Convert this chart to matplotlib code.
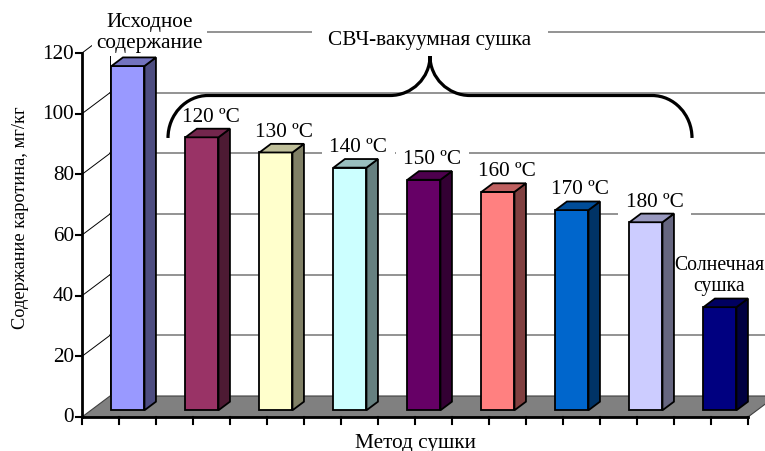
import matplotlib.pyplot as plt
from matplotlib.patches import Polygon, PathPatch
from matplotlib.path import Path
import matplotlib.colors as mcolors

methods = ['Исходное\nсодержание', '120 ºC', '130 ºC', '140 ºC', '150 ºC',
           '160 ºC', '170 ºC', '180 ºC', 'Солнечная\nсушка']
carotene = [113.5, 90, 85, 80, 76, 72, 66, 62, 34]
bar_colors = ['#9999FF', '#993366', '#FFFFCC', '#CCFFFF', '#660066',
              '#FF8080', '#0066CC', '#CCCCFF', '#000080']
yticks = [0, 20, 40, 60, 80, 100, 120]
ylabel = 'Содержание каротина, мг/кг'
xlabel = 'Метод сушки'
group_label = 'СВЧ-вакуумная сушка'
group_first, group_last = 1, 7

plt.rcParams['font.family'] = ['Liberation Serif', 'DejaVu Serif']
FS = 15.3

fig = plt.figure(figsize=(7.65, 4.52), dpi=100)
ax = fig.add_axes([0, 0, 1, 1])
ax.axis('off')

# масштаб: 74 px на категорию, ~3.03 px на единицу
PXC, PXV = 74, 3.033
ax.set_xlim(-0.5 - 82 / PXC, -0.5 + 683 / PXC)
ax.set_ylim(-34 / PXV, 418 / PXV)

n = len(carotene)
DX, DY = 28 / PXC, 21 / PXV      # глубина "пола"
f0, f1 = 0.32, 0.73              # положение столбиков по глубине
w = 33 / PXC
ymax = yticks[-1]


def shade(c, k):
    return tuple(v * k for v in mcolors.to_rgb(c))


# задняя стенка: сетка
for g in yticks[1:]:
    ax.plot([-0.5 + DX, n + 1], [g + DY, g + DY], color='#808080', lw=1.2, zorder=0.5)
    ax.plot([-0.5, -0.5 + DX], [g, g + DY], color='black', lw=0.7, zorder=0.5)
ax.plot([-0.5 + DX, -0.5 + DX], [DY, ymax + DY], color='black', lw=0.7, zorder=0.5)

# пол
floor = Polygon([(-0.5, 0), (n - 0.5, 0), (n - 0.5 + DX, DY), (-0.5 + DX, DY)],
                closed=True, fc='#808080', ec='#404040', lw=0.8, zorder=1)
ax.add_patch(floor)

# столбики
bdx, bdy = (f1 - f0) * DX, (f1 - f0) * DY
for i, (v, c) in enumerate(zip(carotene, bar_colors)):
    xl = i - w / 2 + f0 * DX
    xr = xl + w
    y0 = f0 * DY
    y1 = y0 + v
    front = Polygon([(xl, y0), (xr, y0), (xr, y1), (xl, y1)], closed=True,
                    fc=c, ec='black', lw=1.3, zorder=2)
    side = Polygon([(xr, y0), (xr + bdx, y0 + bdy), (xr + bdx, y1 + bdy), (xr, y1)],
                   closed=True, fc=shade(c, 0.5), ec='black', lw=1.3, zorder=2)
    top = Polygon([(xl, y1), (xr, y1), (xr + bdx, y1 + bdy), (xl + bdx, y1 + bdy)],
                  closed=True, fc=shade(c, 0.75), ec='black', lw=1.3, zorder=2)
    for p in (front, side, top):
        ax.add_patch(p)

    xc = (xl + xr) / 2
    fs = FS
    if i == 0:
        lx, ly, pad = xc + 22 / PXC, y1 + 11.2, 0.2
    elif '\n' in methods[i]:
        # у правого края - чуть мельче, чтобы не обрезалось
        lx, ly, pad, fs = xc - 1 / PXC, y1 + 10.5, 0.05, 14.2
    else:
        lx, ly, pad = xc + 8.5 / PXC, y1 + 7, 0.35
    # подписи с белой подложкой поверх сетки, но под столбиками
    ax.text(lx, ly, methods[i], ha='center', va='center', fontsize=fs,
            linespacing=1.15, zorder=1.5,
            bbox=dict(boxstyle='square,pad=%g' % pad, fc='white', ec='none'))

# оси
ax.plot([-0.5, -0.5], [0, ymax], color='black', lw=2, zorder=4)
ax.plot([-0.5, n - 0.5], [0, 0], color='black', lw=2, zorder=4)
for g in yticks:
    ax.plot([-0.5 - 6 / PXC, -0.5], [g, g], color='black', lw=1.5, zorder=4)
    ax.text(-0.5 - 8 / PXC, g, str(g), ha='right', va='center', fontsize=FS)
for k in range(2 * n + 1):
    x = -0.5 + k / 2
    ax.plot([x, x], [0, -7 / PXV], color='black', lw=1.5, zorder=4)

ax.text((n - 1) / 2, -8.3, xlabel, ha='center', va='center', fontsize=FS)
ax.text(-0.5 - 62 / PXC, 66, ylabel, ha='center', va='center', rotation=90,
        fontsize=13.2)

# фигурная скобка над СВЧ-группой
xl = group_first - 0.5 + 12 / PXC
xr = group_last + 0.5 + 18 / PXC
xm = (xl + xr) / 2
ye, yh, yp = 92, 106, 119
rx = 40 / PXC
verts = [
    (xl, ye), (xl, ye + 0.55 * (yh - ye)), (xl + 0.45 * rx, yh), (xl + rx, yh),
    (xm - rx, yh),
    (xm - 0.45 * rx, yh), (xm, yh + 0.45 * (yp - yh)), (xm, yp),
    (xm, yh + 0.45 * (yp - yh)), (xm + 0.45 * rx, yh), (xm + rx, yh),
    (xr - rx, yh),
    (xr - 0.45 * rx, yh), (xr, ye + 0.55 * (yh - ye)), (xr, ye),
]
codes = [Path.MOVETO, Path.CURVE4, Path.CURVE4, Path.CURVE4,
         Path.LINETO,
         Path.CURVE4, Path.CURVE4, Path.CURVE4,
         Path.CURVE4, Path.CURVE4, Path.CURVE4,
         Path.LINETO,
         Path.CURVE4, Path.CURVE4, Path.CURVE4]
ax.add_patch(PathPatch(Path(verts, codes), fc='none', ec='black', lw=2.3, zorder=5))

ax.text(xm, 124.6, group_label, ha='center', va='center', fontsize=FS, zorder=3,
        bbox=dict(boxstyle='square,pad=0.75', fc='white', ec='none'))

fig.savefig('out.png', dpi=100)
